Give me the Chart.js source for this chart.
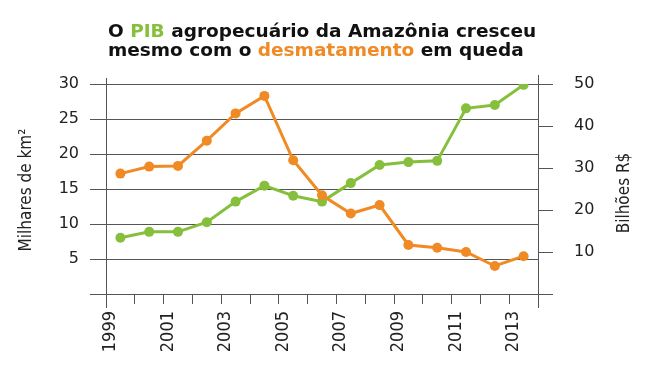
<!DOCTYPE html>
<html><head><meta charset="utf-8">
<script src="https://cdn.jsdelivr.net/npm/chart.js@4"></script>
<style>
html,body{margin:0;padding:0;background:#fff;}
#wrap{position:relative;width:645px;height:375px;}
#title{position:absolute;left:108px;top:21px;font-family:'DejaVu Sans',sans-serif;font-weight:700;font-size:18.5px;line-height:19px;color:#111;white-space:nowrap;}
.g{color:#86BF3C}.o{color:#F08A24}
canvas{position:absolute;left:0;top:0;}
</style></head><body>
<div id="wrap">
<canvas id="c" width="645" height="375"></canvas>
<div id="title">O <span class="g">PIB</span> agropecuário da Amazônia cresceu<br>mesmo com o <span class="o">desmatamento</span> em queda</div>
</div>
<script>
const years = ['1999','2000','2001','2002','2003','2004','2005','2006','2007','2008','2009','2010','2011','2012','2013'];
const desmatamento = [17.2, 18.2, 18.3, 21.9, 25.8, 28.3, 19.1, 14.1, 11.5, 12.7, 7.0, 6.6, 6.0, 4.0, 5.4];
const pib = [13.4, 14.8, 14.8, 17.1, 22.0, 25.8, 23.4, 22.0, 26.4, 30.7, 31.4, 31.7, 44.2, 45.0, 49.8];
const leftTitle = 'Milhares de km²';
const rightTitle = 'Bilhões R$';

const ORANGE = '#F08A24', GREEN = '#86BF3C', AX = '#555';
const condensed = "'Liberation Sans Narrow','DejaVu Sans Condensed','Roboto Condensed',sans-serif";

const extras = {
  id:'extras',
  afterDraw(chart){
    const {ctx, chartArea:a} = chart;
    ctx.save();
    ctx.strokeStyle = AX; ctx.lineWidth = 1;
    ctx.beginPath();
    ctx.moveTo(a.left+0.5, a.top-6); ctx.lineTo(a.left+0.5, a.bottom+14);
    ctx.moveTo(a.right+0.5, a.top-9); ctx.lineTo(a.right+0.5, a.bottom+14);
    ctx.stroke();
    ctx.fillStyle = '#222';
    ctx.font = "17px " + condensed;
    ctx.textAlign = 'center'; ctx.textBaseline = 'middle';
    ctx.translate(27, 190); ctx.rotate(-Math.PI/2); ctx.fillText(leftTitle, 0, 0);
    ctx.setTransform(1,0,0,1,0,0);
    ctx.translate(625, 193); ctx.rotate(-Math.PI/2); ctx.fillText(rightTitle, 0, 0);
    ctx.restore();
  }
};

new Chart(document.getElementById('c'), {
  type:'line',
  data:{
    labels: years,
    datasets:[
      {label:'Desmatamento', data: desmatamento, yAxisID:'y', borderColor:ORANGE, backgroundColor:ORANGE,
       borderWidth:3, pointRadius:5, pointHoverRadius:5, pointBorderWidth:0, tension:0},
      {label:'PIB', data: pib, yAxisID:'y1', borderColor:GREEN, backgroundColor:GREEN,
       borderWidth:3, pointRadius:5, pointHoverRadius:5, pointBorderWidth:0, tension:0}
    ]
  },
  options:{
    responsive:false, animation:false, devicePixelRatio:1,
    layout:{padding:{top:84,left:0,right:0,bottom:0}},
    plugins:{legend:{display:false}, tooltip:{enabled:false}},
    scales:{
      x:{
        type:'category', offset:true,
        grid:{display:true, offset:true, drawOnChartArea:false, drawTicks:true, tickLength:10, color:AX},
        border:{display:true, color:AX},
        ticks:{autoSkip:false, maxRotation:90, minRotation:90, labelOffset:-10, padding:7, color:'#222',
          font:{family:condensed, size:18},
          callback:function(v,i){ return i%2===0 ? this.getLabelForValue(v) : ''; }},
        afterFit(s){ s.height = 81; }
      },
      y:{
        position:'left', min:0, max:30,
        grid:{color:AX, tickLength:16, drawTicks:true},
        border:{display:true, color:AX},
        ticks:{stepSize:5, padding:11, color:'#222', font:{family:"'DejaVu Sans',sans-serif", size:16},
          callback:v => v===0 ? '' : v},
        afterFit(s){ s.width = 106; }
      },
      y1:{
        position:'right', min:0, max:50,
        grid:{drawOnChartArea:false, color:AX, tickLength:15, drawTicks:true},
        border:{display:true, color:AX},
        ticks:{stepSize:10, padding:21, color:'#222', font:{family:"'DejaVu Sans',sans-serif", size:16},
          callback:v => v===0 ? '' : v},
        afterFit(s){ s.width = 107; }
      }
    }
  },
  plugins:[extras]
});
</script>
</body></html>
